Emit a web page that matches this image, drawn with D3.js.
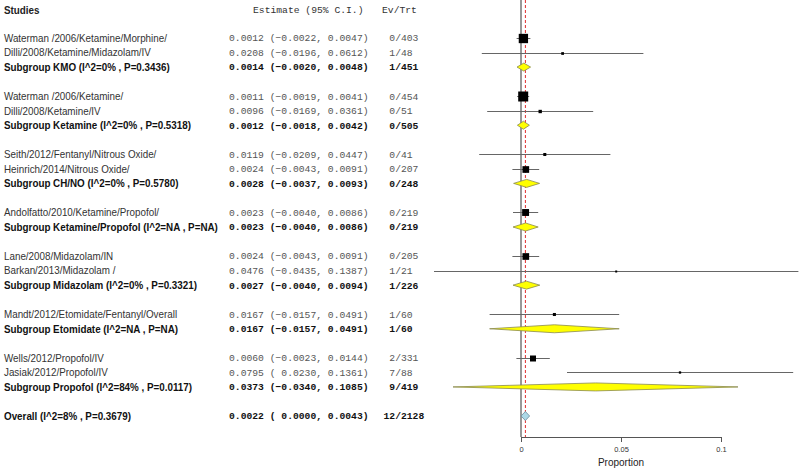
<!DOCTYPE html>
<html><head><meta charset="utf-8">
<script src="https://cdn.jsdelivr.net/npm/d3@7"></script>
<style>body{margin:0;background:#fff}svg{display:block}</style>
</head><body>
<script>
// ---------- data ----------
const studyNames = [
  "Waterman /2006/Ketamine/Morphine/", "Dilli/2008/Ketamine/Midazolam/IV",
  "Waterman /2006/Ketamine/", "Dilli/2008/Ketamine/IV",
  "Seith/2012/Fentanyl/Nitrous Oxide/", "Heinrich/2014/Nitrous Oxide/",
  "Andolfatto/2010/Ketamine/Propofol/",
  "Lane/2008/Midazolam/IN", "Barkan/2013/Midazolam /",
  "Mandt/2012/Etomidate/Fentanyl/Overall",
  "Wells/2012/Propofol/IV", "Jasiak/2012/Propofol/IV"
];
const studyGroup = [0,0,1,1,2,2,3,4,4,5,6,6];
const studyEst = [0.0012,0.0208,0.0011,0.0096,0.0119,0.0024,0.0023,0.0024,0.0476,0.0167,0.0060,0.0795];
const studyLo  = [-0.0022,-0.0196,-0.0019,-0.0169,-0.0209,-0.0043,-0.0040,-0.0043,-0.0435,-0.0157,-0.0023,0.0230];
const studyHi  = [0.0047,0.0612,0.0041,0.0361,0.0447,0.0091,0.0086,0.0091,0.1387,0.0491,0.0144,0.1361];
const studyEv  = [0,1,0,0,0,0,0,0,1,1,2,7];
const studyTrt = [403,48,454,51,41,207,219,205,21,60,331,88];

const subLabels = [
  "Subgroup KMO (I^2=0% , P=0.3436)",
  "Subgroup Ketamine (I^2=0% , P=0.5318)",
  "Subgroup CH/NO (I^2=0% , P=0.5780)",
  "Subgroup Ketamine/Propofol (I^2=NA , P=NA)",
  "Subgroup Midazolam  (I^2=0% , P=0.3321)",
  "Subgroup Etomidate (I^2=NA , P=NA)",
  "Subgroup Propofol (I^2=84% , P=0.0117)"
];
const subEst = [0.0014,0.0012,0.0028,0.0023,0.0027,0.0167,0.0373];
const subLo  = [-0.0020,-0.0018,-0.0037,-0.0040,-0.0040,-0.0157,-0.0340];
const subHi  = [0.0048,0.0042,0.0093,0.0086,0.0094,0.0491,0.1085];
const subEv  = [1,0,0,0,1,1,9];
const subTrt = [451,505,248,219,226,60,419];

const overallLabel = "Overall (I^2=8% , P=0.3679)";
const overallEst = 0.0022, overallLo = 0.0000, overallHi = 0.0043;
const overallEv = 12, overallTrt = 2128;

const headers = ["Studies", "Estimate (95% C.I.)", "Ev/Trt"];
const axisTicks = [0, 0.05, 0.1];
const axisTitle = "Proportion";

// ---------- layout ----------
const W = 800, H = 469;
const svg = d3.select("body").append("svg").attr("width", W).attr("height", H);

const rows = [];
let r = 0;
subLabels.forEach((lab, g) => {
  studyNames.forEach((n, i) => {
    if (studyGroup[i] === g) rows.push({type:"study", row:r++, label:n, est:studyEst[i], lo:studyLo[i], hi:studyHi[i], ev:studyEv[i], trt:studyTrt[i]});
  });
  rows.push({type:"sub", row:r++, label:lab, est:subEst[g], lo:subLo[g], hi:subHi[g], ev:subEv[g], trt:subTrt[g]});
  r++;
});
rows.push({type:"overall", row:r, label:overallLabel, est:overallEst, lo:overallLo, hi:overallHi, ev:overallEv, trt:overallTrt});

const nRows = r;
const y = d3.scaleLinear().domain([0, nRows]).range([38, 416]);
const x = d3.scaleLinear().domain([0, 0.1]).range([521, 721]);
const axisY = 437;

const MONO = "Liberation Mono";
const SANS = "Liberation Sans";
const labelScale = 0.894;

function sansText(sel, bold){
  return sel.style("font-family", SANS).style("font-size", "11px")
    .style("font-weight", bold ? "bold" : "normal");
}
function monoText(sel, bold){
  return sel.style("font-family", MONO).style("font-size", "9.7px")
    .style("font-weight", bold ? "bold" : "normal").style("white-space", "pre");
}

// headers
sansText(svg.append("text").attr("transform", `translate(4,10) scale(${labelScale},1)`).attr("dy", "0.35em"), true)
  .attr("fill", "#222").text(headers[0]);
monoText(svg.append("text").attr("x", 253).attr("y", 10).attr("dy", "0.35em"), false)
  .attr("fill", "#333").text(headers[1]);
monoText(svg.append("text").attr("x", 382).attr("y", 10).attr("dy", "0.35em"), false)
  .attr("fill", "#333").text(headers[2]);

const f4 = d3.format(".4f");
function ciText(d){ return f4(d.est) + " (" + f4(d.lo).padStart(7, " ") + ", " + f4(d.hi) + ")"; }

const rowG = svg.append("g");
rows.forEach(d => {
  const bold = d.type !== "study";
  const yy = y(d.row);
  sansText(rowG.append("text").attr("transform", `translate(4,${yy}) scale(${labelScale},1)`).attr("dy", "0.35em"), bold)
    .attr("fill", bold ? "#111" : "#333").text(d.label);
  monoText(rowG.append("text").attr("x", 229).attr("y", yy).attr("dy", "0.35em"), bold)
    .attr("fill", bold ? "#111" : "#555").text(ciText(d));
  monoText(rowG.append("text").attr("x", 383.5).attr("y", yy).attr("dy", "0.35em"), bold)
    .attr("fill", bold ? "#111" : "#555").text(String(d.ev).padStart(2, " ") + "/" + d.trt);
});

// reference lines
svg.append("line").attr("x1", x(0)).attr("x2", x(0)).attr("y1", 0).attr("y2", axisY)
  .attr("stroke", "#333").attr("stroke-width", 1);
svg.append("line").attr("x1", x(overallEst)).attr("x2", x(overallEst)).attr("y1", 0).attr("y2", axisY)
  .attr("stroke", "#e03030").attr("stroke-width", 1).attr("stroke-dasharray", "3,2");

svg.append("clipPath").attr("id", "clip").append("rect").attr("x", 420).attr("y", 0).attr("width", 379).attr("height", H);
const plot = svg.append("g").attr("clip-path", "url(#clip)");

const studies = rows.filter(d => d.type === "study");
studies.forEach(d => { const se = (d.hi - d.lo) / 3.92; d.w = 1 / (se * se); });
const size = d3.scalePow().exponent(0.25).domain([0, d3.max(studies, d => d.w)]).range([0, 10]);
const sz = d => Math.max(2, size(d.w));

plot.selectAll(".ci").data(studies).join("line")
  .attr("x1", d => x(d.lo)).attr("x2", d => x(d.hi))
  .attr("y1", d => Math.round(y(d.row)) + 0.5).attr("y2", d => Math.round(y(d.row)) + 0.5)
  .attr("stroke", "#666").attr("stroke-width", 1);
plot.selectAll(".sq").data(studies).join("rect")
  .attr("x", d => x(d.est) - sz(d) / 2)
  .attr("y", d => Math.round(y(d.row)) + 0.5 - sz(d) / 2)
  .attr("width", sz).attr("height", sz)
  .attr("fill", "#000");

function diamond(d, h){
  const yy = y(d.row);
  return `M${x(d.lo)},${yy} L${x(d.est)},${yy - h/2} L${x(d.hi)},${yy} L${x(d.est)},${yy + h/2} Z`;
}
const subs = rows.filter(d => d.type === "sub");
plot.selectAll(".dia").data(subs).join("path")
  .attr("d", d => diamond(d, 8))
  .attr("fill", "#ffff00").attr("stroke", "#8a8a50").attr("stroke-width", 0.8);
plot.selectAll(".ov").data(rows.filter(d => d.type === "overall")).join("path")
  .attr("d", d => diamond(d, 9))
  .attr("fill", "#add8e6").attr("stroke", "#6a8a9a").attr("stroke-width", 0.8);

// axis
const axis = svg.append("g").attr("transform", `translate(0,${axisY})`)
  .call(d3.axisBottom(x).tickValues(axisTicks).tickFormat(d => d === 0 ? "0" : String(d)).tickSize(5).tickSizeOuter(0));
axis.select(".domain").attr("stroke", "#555");
axis.selectAll(".tick line").attr("stroke", "#555");
axis.selectAll(".tick text").style("font-family", SANS).style("font-size", "7.5px").attr("fill", "#333").attr("dy", "0.9em");
svg.append("text").attr("x", x(0.05)).attr("y", 462).attr("dy", "0.35em").attr("text-anchor", "middle")
  .style("font-family", SANS).style("font-size", "10px").attr("fill", "#222").text(axisTitle);
</script>
</body></html>
